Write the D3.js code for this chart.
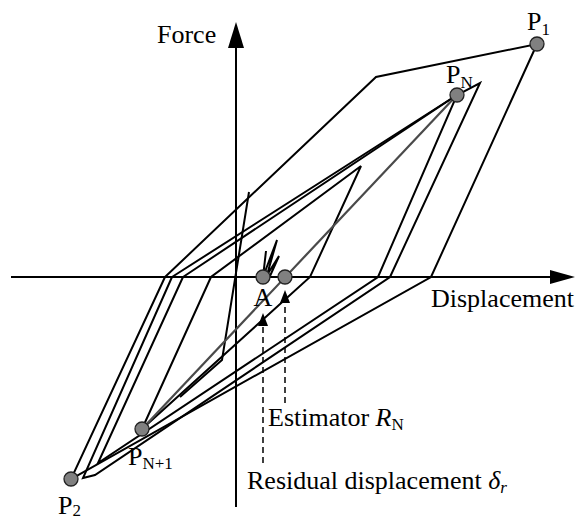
<!DOCTYPE html>
<html>
<head>
<meta charset="utf-8">
<script src="https://cdn.jsdelivr.net/npm/d3@7"></script>
<style>
  html, body { margin: 0; padding: 0; background: #fff; }
  svg { display: block; }
  text { font-family: "Liberation Serif", "Times New Roman", serif; fill: #000; }
</style>
</head>
<body>
<svg id="chart" width="578" height="523"></svg>
<script>
// Force–displacement hysteresis (displacement d, force f)
const P1 = [30.1, 23.3];
const P2 = [-16.5, -20.2];
const PN = [22.1, 18.2];
const PN1 = [-9.4, -15.2];
const pointA = [2.7, 0];
const estimatorRN = [4.9, 0];

// Branches of the response path, each a list of [d, f] turning points
const loopOuter = [[-7.1, 0], [14.0, 20.0], P1, [19.5, 0], P2, [-7.1, 0]];
const loopSecond = [[-6.4, 0], PN, [24.4, 19.4], [15.4, 0], [-14.1, -19.8], [-15.3, -20.1], [-6.4, 0]];
const loopThird = [[-5.3, 0], PN, [14.2, 0], [-13.8, -18.6], [-5.3, 0]];
const loopInner = [PN1, [-2.5, 0], [12.5, 11.1], [7.4, 0], PN1];
const tailBranch = [[-5.6, -12.0], [-1.4, -8.3], [1.3, 8.5]];
const settleBranch = [[3.0, 2.6], [2.7, 0], [4.1, 3.7], [3.1, 0.2], [4.3, 2.1], [3.4, 0.1]];
const estimatorLine = [PN, PN1];

// Dashed pointer arrows: [d, fromF, toF]
const residualArrow = [2.7, -18.6, -3.6];
const estimatorArrow = [4.9, -12.6, -1.3];

const svg = d3.select("#chart");
const x = d3.scaleLinear().domain([-22.5, 33.9]).range([11, 575]);
const y = d3.scaleLinear().domain([25.5, -23.0]).range([22, 507]);

const line = d3.line().x(p => x(p[0])).y(p => y(p[1]));

// Axes with arrowheads
const x0 = x(0), y0 = y(0);
svg.append("line").attr("x1", x(-22.5)).attr("x2", x(31.5)).attr("y1", y0).attr("y2", y0)
  .attr("stroke", "#000").attr("stroke-width", 2);
svg.append("path")
  .attr("d", `M${x(33.9)},${y0} L${x(31.4)},${y0 - 7} L${x(31.4)},${y0 + 7} Z`)
  .attr("fill", "#000");
svg.append("line").attr("x1", x0).attr("x2", x0).attr("y1", y(-23.0)).attr("y2", y(23.2))
  .attr("stroke", "#000").attr("stroke-width", 2);
svg.append("path")
  .attr("d", `M${x0},${y(25.5)} L${x0 - 8},${y(22.9)} L${x0 + 8},${y(22.9)} Z`)
  .attr("fill", "#000");

// Hysteresis branches
const branches = [loopOuter, loopSecond, loopThird, loopInner, tailBranch, settleBranch];
svg.append("g").selectAll("path").data(branches).join("path")
  .attr("d", line)
  .attr("fill", "none")
  .attr("stroke", "#000")
  .attr("stroke-width", 2)
  .attr("stroke-linejoin", "miter");

// Estimator line from P_N to P_N+1
svg.append("path").attr("d", line(estimatorLine))
  .attr("fill", "none").attr("stroke", "#4a4a4a").attr("stroke-width", 2.2);

// Dashed pointers
[residualArrow, estimatorArrow].forEach(a => {
  const px = x(a[0]);
  const tip = y(a[2]);
  svg.append("line").attr("x1", px).attr("x2", px)
    .attr("y1", y(a[1])).attr("y2", tip + 10)
    .attr("stroke", "#000").attr("stroke-width", 1.5).attr("stroke-dasharray", "6,4");
  svg.append("path")
    .attr("d", `M${px},${tip} L${px - 5},${tip + 13} L${px + 5},${tip + 13} Z`)
    .attr("fill", "#000");
});

// Marked points
const marks = [P1, PN, P2, PN1, pointA, estimatorRN];
svg.append("g").selectAll("circle").data(marks).join("circle")
  .attr("cx", p => x(p[0])).attr("cy", p => y(p[1])).attr("r", 7)
  .attr("fill", "#808080").attr("stroke", "#222").attr("stroke-width", 1.3);

// Labels
const fs = 26, sub = 17;
function subLabel(px, py, main, s, shift) {
  const t = svg.append("text").attr("x", px).attr("y", py).attr("font-size", fs);
  t.append("tspan").text(main);
  t.append("tspan").attr("font-size", sub).attr("dy", shift).text(s);
  return t;
}
svg.append("text").attr("x", x0 - 79).attr("y", 43).attr("font-size", fs).text("Force");
svg.append("text").attr("x", 431).attr("y", y0 + 30).attr("font-size", fs).text("Displacement");
subLabel(x(P1[0]) - 10, y(P1[1]) - 14, "P", "1", 5);
subLabel(x(PN[0]) - 11, y(PN[1]) - 12, "P", "N", 5);
subLabel(x(P2[0]) - 13, y(P2[1]) + 35, "P", "2", 2);
subLabel(x(PN1[0]) - 14, y(PN1[1]) + 36, "P", "N+1", 4);
svg.append("text").attr("x", x(pointA[0])).attr("y", y0 + 29).attr("font-size", fs)
  .attr("text-anchor", "middle").text("A");

const est = svg.append("text").attr("x", 268).attr("y", 426).attr("font-size", fs);
est.append("tspan").text("Estimator ");
est.append("tspan").attr("font-style", "italic").text("R");
est.append("tspan").attr("font-size", sub).attr("dy", 4).text("N");

const res = svg.append("text").attr("x", 247).attr("y", 489).attr("font-size", fs);
res.append("tspan").text("Residual displacement ");
res.append("tspan").attr("font-style", "italic").text("δ");
res.append("tspan").attr("font-style", "italic").attr("font-size", sub).attr("dy", 4).text("r");
</script>
</body>
</html>
